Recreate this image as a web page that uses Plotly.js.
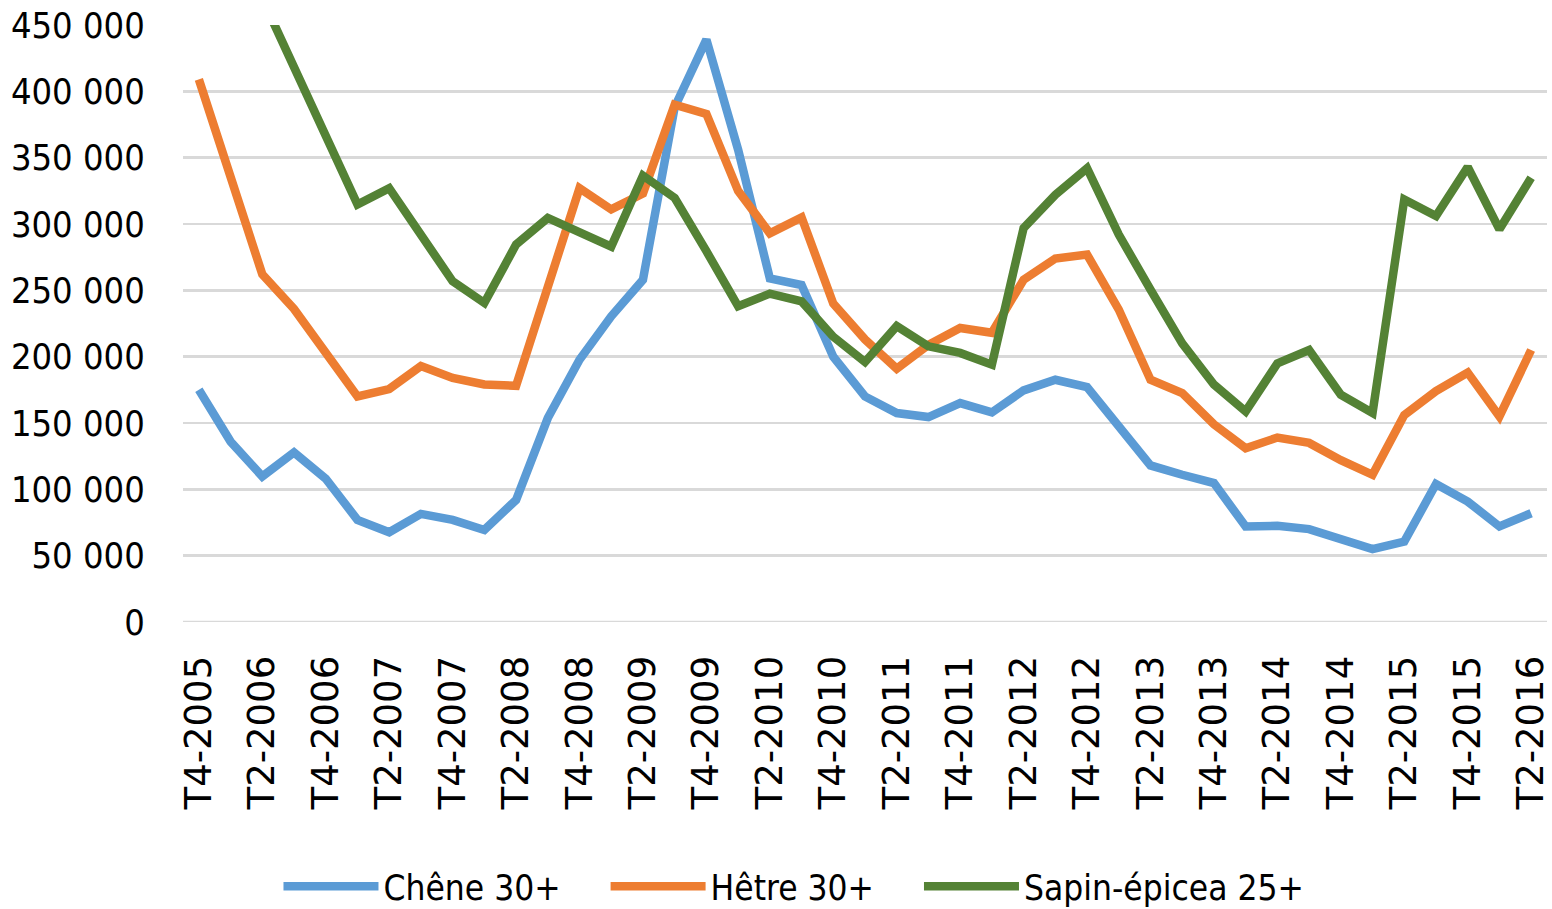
<!DOCTYPE html>
<html>
<head>
<meta charset="utf-8">
<script src="https://cdn.plot.ly/plotly-3.0.1.min.js"></script>
<style>html,body{margin:0;padding:0;background:#fff;}#chart{width:1552px;height:909px;}</style>
</head>
<body>
<div id="chart"></div>
<script>
var categories = ["T4-2005","T1-2006","T2-2006","T3-2006","T4-2006","T1-2007","T2-2007","T3-2007","T4-2007","T1-2008","T2-2008","T3-2008","T4-2008","T1-2009","T2-2009","T3-2009","T4-2009","T1-2010","T2-2010","T3-2010","T4-2010","T1-2011","T2-2011","T3-2011","T4-2011","T1-2012","T2-2012","T3-2012","T4-2012","T1-2013","T2-2013","T3-2013","T4-2013","T1-2014","T2-2014","T3-2014","T4-2014","T1-2015","T2-2015","T3-2015","T4-2015","T1-2016","T2-2016"];
var tickLabels = ["T4-2005","T2-2006","T4-2006","T2-2007","T4-2007","T2-2008","T4-2008","T2-2009","T4-2009","T2-2010","T4-2010","T2-2011","T4-2011","T2-2012","T4-2012","T2-2013","T4-2013","T2-2014","T4-2014","T2-2015","T4-2015","T2-2016"];
var chene = [175000,136000,109700,127800,108000,77000,67700,81500,77000,69400,92000,153700,197700,230400,258000,388000,439000,356000,259000,254000,200000,170000,157500,154500,165000,158000,174600,182600,177000,147400,118000,111000,104700,72000,72500,70000,62400,54900,60600,104000,90800,72000,82000];
var hetre = [409000,336000,262000,236000,203000,170000,175600,193000,184000,179000,178000,252000,327000,311000,323000,390000,383000,325000,293000,305000,240000,213000,191000,209000,221600,218000,258000,274000,277000,235500,182600,172600,149000,131000,139000,135000,122000,111000,156000,174000,188000,155000,205000];
var sapin = [null,null,470000,418000,365000,314700,327000,293000,256800,240500,284500,304600,294500,283000,336500,319700,279500,238000,247500,241700,215000,196000,223000,207800,202800,194000,297000,322000,342000,292000,250500,210000,179000,158700,195000,205000,171300,157500,318500,306000,343000,296000,334800];
var yTicks = [0,50000,100000,150000,200000,250000,300000,350000,400000,450000];
var yTickText = ["0","50 000","100 000","150 000","200 000","250 000","300 000","350 000","400 000","450 000"];

var seriesNames = ["Chêne 30+\u00a0\u00a0\u00a0\u00a0","Hêtre 30+\u00a0\u00a0\u00a0\u00a0","Sapin-épicea 25+"];
var seriesColors = ["#5B9BD5","#ED7D31","#548235"];
var seriesData = [chene, hetre, sapin];

var traces = seriesData.map(function(d, k){
  return {x: categories, y: d, type: "scatter", mode: "lines", name: seriesNames[k],
    line: {color: seriesColors[k], width: 8.5}, connectgaps: false, hoverinfo: "skip"};
});

var narrow = "'DejaVu Sans Condensed', 'Liberation Sans Narrow', 'DejaVu Sans', sans-serif";
var layout = {
  width: 1552, height: 909,
  margin: {l: 183, r: 5, t: 25, b: 287, pad: 0, autoexpand: false},
  paper_bgcolor: "#fff", plot_bgcolor: "#fff",
  showlegend: true,
  legend: {orientation: "h", x: 0.07, xanchor: "left", y: -0.443, yanchor: "middle",
    font: {family: narrow, size: 35, color: "#000"}, itemwidth: 95, tracegroupgap: 0},
  xaxis: {type: "category", range: [-0.5, 42.5], tickmode: "array", tickvals: tickLabels, ticktext: tickLabels,
    tickangle: -90, showgrid: false, zeroline: false, showline: false,
    ticks: "outside", ticklen: 18, tickcolor: "rgba(0,0,0,0)",
    tickfont: {family: "'DejaVu Sans', sans-serif", size: 37, color: "#000"}, fixedrange: true},
  yaxis: {range: [0, 450000], tickmode: "array", tickvals: yTicks, ticktext: yTickText,
    showgrid: true, gridcolor: "#D9D9D9", gridwidth: 2.5, zeroline: false, showline: false,
    ticks: "outside", ticklen: 30, tickcolor: "rgba(0,0,0,0)",
    tickfont: {family: narrow, size: 36, color: "#000"}, fixedrange: true},
  shapes: [{type: "line", xref: "paper", yref: "y", x0: 0, x1: 1, y0: 0, y1: 0,
    line: {color: "#D9D9D9", width: 2.5}, layer: "below"}]
};
Plotly.newPlot("chart", traces, layout, {displayModeBar: false, staticPlot: true});
</script>
</body>
</html>
